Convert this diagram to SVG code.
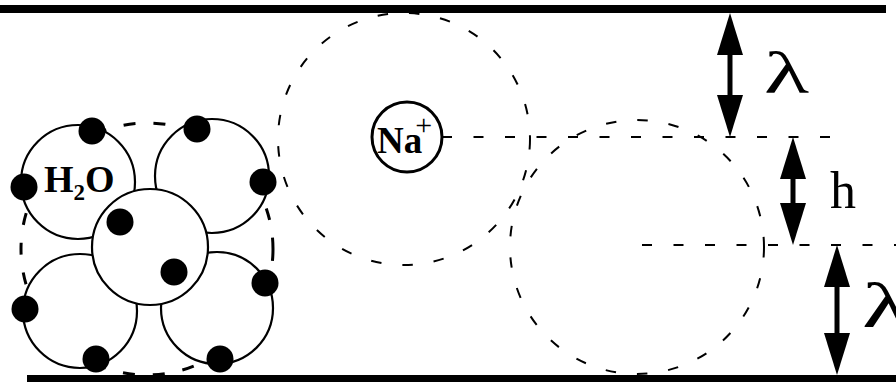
<svg xmlns="http://www.w3.org/2000/svg" width="896" height="382" viewBox="0 0 896 382">
  <style>
    .wall { stroke: #000; stroke-width: 8; fill: none; }
    .shell { fill: none; stroke: #000; stroke-width: 2; stroke-dasharray: 10.5 21; }
    .cluster { fill: none; stroke: #000; stroke-width: 3; stroke-dasharray: 12 18; }
    .guide { fill: none; stroke: #000; stroke-width: 2; stroke-dasharray: 10 21.5; }
    .mol { fill: #fff; stroke: #000; stroke-width: 2.2; }
    .dot { fill: #000; }
    .ion { fill: #fff; stroke: #000; stroke-width: 3; }
    .dim { stroke: #000; stroke-width: 5; fill: none; marker-start: url(#head); marker-end: url(#head); }
    .lbl { font-family: "Liberation Serif", "Times New Roman", serif; fill: #000; }
    .bold { font-weight: bold; }
  </style>
  <defs>
    <marker id="head" markerUnits="userSpaceOnUse" markerWidth="42" markerHeight="26" viewBox="0 0 42 26" refX="32" refY="13" orient="auto-start-reverse">
      <path d="M0,0 L42,13 L0,26 Z" fill="#000"/>
    </marker>
  </defs>

  <!-- channel walls -->
  <g id="walls">
    <line class="wall" x1="0" y1="9" x2="886" y2="9"/>
    <line class="wall" x1="27" y1="379" x2="896" y2="379"/>
  </g>

  <!-- hydration shells -->
  <g id="shell-ion">
    <circle class="shell" cx="404" cy="139" r="126"/>
  </g>
  <g id="shell-shifted">
    <circle class="shell" cx="637" cy="247" r="127"/>
  </g>

  <!-- water cluster -->
  <g id="water-cluster">
    <circle class="cluster" cx="147" cy="249" r="126"/>
    <circle class="mol" cx="78" cy="182" r="57"/>
    <circle class="mol" cx="212" cy="176" r="57"/>
    <circle class="mol" cx="80" cy="311" r="57"/>
    <circle class="mol" cx="217" cy="308" r="56"/>
    <circle class="mol" cx="150" cy="247" r="58"/>
    <circle class="dot" cx="92" cy="131" r="13.5"/>
    <circle class="dot" cx="24" cy="187" r="13.5"/>
    <circle class="dot" cx="197" cy="129" r="13.5"/>
    <circle class="dot" cx="263" cy="182" r="13.5"/>
    <circle class="dot" cx="120" cy="222" r="13.5"/>
    <circle class="dot" cx="174" cy="272" r="13.5"/>
    <circle class="dot" cx="265" cy="283" r="13.5"/>
    <circle class="dot" cx="25" cy="309" r="13.5"/>
    <circle class="dot" cx="96" cy="359" r="13.5"/>
    <circle class="dot" cx="220" cy="359" r="13.5"/>
    <text class="lbl bold" x="44" y="192" font-size="38">H<tspan font-size="23" dy="8">2</tspan><tspan dy="-8">O</tspan></text>
  </g>

  <!-- sodium ion -->
  <g id="na-ion">
    <circle class="ion" cx="407" cy="137" r="35"/>
    <text class="lbl bold" x="377" y="153" font-size="37">Na<tspan dx="-7" dy="-18" font-size="30" font-weight="normal">+</tspan></text>
  </g>

  <!-- reference lines and dimension arrows -->
  <g id="connectors">
    <line class="guide" x1="442" y1="137" x2="830" y2="137"/>
    <line class="guide" x1="642" y1="245" x2="896" y2="245"/>
    <path class="dim" d="M730,23 V127"/>
    <path class="dim" d="M793,147 V235"/>
    <path class="dim" d="M837,255 V365"/>
  </g>

  <!-- dimension labels -->
  <g id="labels">
    <text class="lbl" transform="translate(764,93) scale(1.55,1)" font-size="60">λ</text>
    <text class="lbl" x="830" y="208" font-size="52">h</text>
    <text class="lbl" transform="translate(862,327) scale(1.55,1)" font-size="64">λ</text>
  </g>
</svg>
